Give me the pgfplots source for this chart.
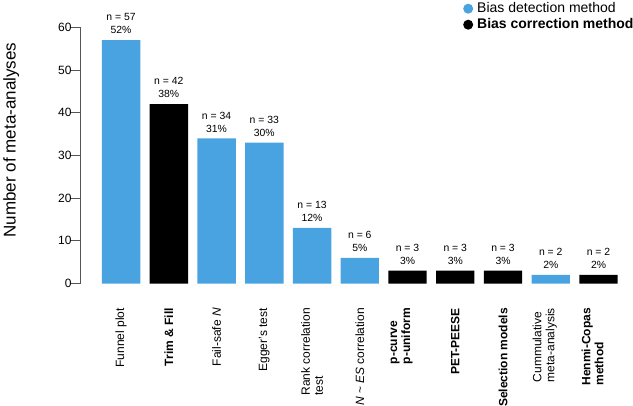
\documentclass[border=0pt]{standalone}
\usepackage{pgfplots}
\pgfplotsset{compat=1.18}
\usepackage{fontspec}
\setmainfont{Liberation Sans}
\definecolor{detblue}{RGB}{74,163,225}
\definecolor{axgray}{RGB}{85,85,85}
\begin{document}
\begin{tikzpicture}
\path[use as bounding box] (0,0) rectangle (633bp,406bp);
\begin{axis}[
  at={(80bp,122.5bp)}, anchor=south west,
  scale only axis, width=542.4bp, height=256.2bp,
  xmin=0.14, xmax=11.5, ymin=0, ymax=60,
  ybar, bar width=38.4bp, bar shift=0pt,
  axis x line*=bottom, axis y line*=left,
  axis line style={-, draw=axgray, line width=1bp},
  x axis line style={draw=none},
  xtick={1,2,3,4,5,6,8,9},
  xticklabels={
    {Funnel plot},
    {\textbf{Trim \& Fill}},
    {Fail-safe \textit{N}},
    {Egger's test},
    {Rank correlation\\test},
    {\textit{N} \textasciitilde{} \textit{ES} correlation},
    {\textbf{PET-PEESE}},
    {\textbf{Selection models}}},
  extra x ticks={7,10,11},
  extra x tick labels={
    {\textbf{p-curve}\\\textbf{p-uniform}},
    {Cummulative\\meta-analysis},
    {\textbf{Henmi-Copas}\\\textbf{method}}},
  extra x tick style={xtick style={draw=none}, xticklabel style={yshift=6bp}},
  xtick style={draw=none},
  xticklabel style={rotate=90, anchor=east, align=left, font=\fontsize{12bp}{13bp}\selectfont},
  xticklabel shift=11bp,
  ytick={0,10,...,60},
  tick align=outside,
  major tick length=10bp,
  ytick style={draw=axgray, line width=1bp},
  yticklabel style={font=\fontsize{12bp}{14bp}\selectfont},
  yticklabel shift=-5bp,
  /pgf/number format/assume math mode=true,
  ylabel={Number of meta-analyses},
  ylabel style={font=\fontsize{17bp}{20bp}\selectfont, at={(axis description cs:-0.127,0.56)}, anchor=center},
  clip=false,
  point meta=explicit,
  visualization depends on={y \as \rawy},
  nodes near coords={n = \pgfmathprintnumber{\rawy}\\\pgfmathprintnumber{\pgfplotspointmeta}\%},
  every node near coord/.append style={anchor=south, align=center, font=\fontsize{10.4bp}{13bp}\selectfont, text=black, yshift=5bp, inner sep=1bp},
  legend image code/.code={\fill[#1] (0bp,0bp) circle (5bp);},
  legend style={at={(axis description cs:0.7061,1.1027)}, anchor=north west, draw=none, fill=none, inner sep=0pt,
    font=\fontsize{14bp}{15bp}\selectfont, row sep=1bp,
    nodes={inner sep=1bp, text height=10bp, text depth=3bp},
    /tikz/every odd column/.append style={column sep=3bp}},
  legend cell align=left,
]
\addplot[fill=detblue, draw=none] coordinates {
  (1,57) [52]
  (3,34) [31]
  (4,33) [30]
  (5,13) [12]
  (6,6) [5]
  (10,2) [2]
};
\addlegendentry{Bias detection method}
\addplot[fill=black, draw=none] coordinates {
  (2,42) [38]
  (7,3) [3]
  (8,3) [3]
  (9,3) [3]
  (11,2) [2]
};
\addlegendentry{\textbf{Bias correction method}}
\end{axis}
\end{tikzpicture}
\end{document}
